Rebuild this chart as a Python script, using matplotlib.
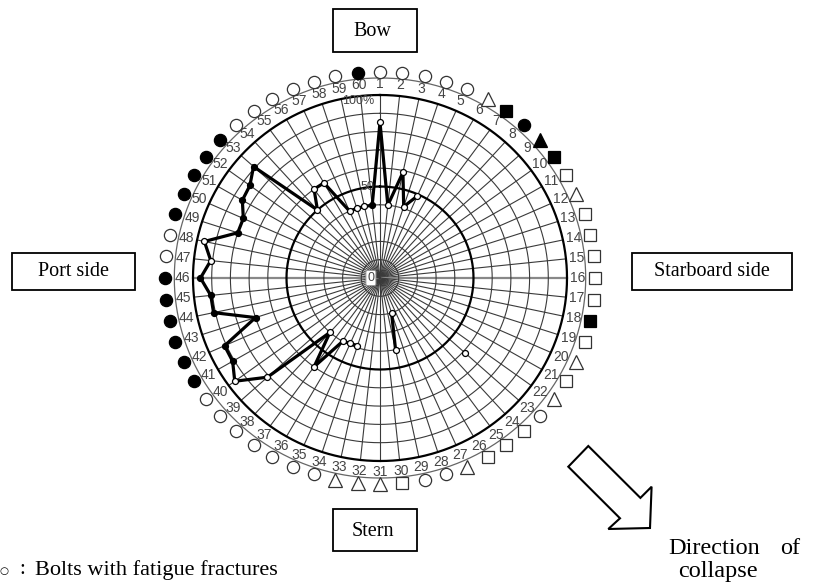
import numpy as np
import matplotlib
matplotlib.use("Agg")
import matplotlib.pyplot as plt
from matplotlib.patches import Rectangle, Polygon
from matplotlib import font_manager

# ---------------- data ----------------
bolt_numbers = np.arange(1, 61)
# rim marker per bolt: o open circle, O filled circle, t open triangle,
# T filled triangle, s open square, S filled square
rim_types = ["o", "o", "o", "o", "o", "t", "S", "O", "T", "S",
             "s", "t", "s", "s", "s", "s", "s", "S", "s", "t",
             "s", "t", "o", "s", "s", "s", "t", "o", "o", "s",
             "t", "t", "t", "o", "o", "o", "o", "o", "o", "o",
             "O", "O", "O", "O", "O", "O", "o", "o", "O", "O",
             "O", "O", "O", "o", "o", "o", "o", "o", "o", "O"]
nan = np.nan
bolt_values = [85, 40, 59, 41, 49, nan, nan, nan, nan, nan,
               nan, nan, nan, nan, nan, nan, nan, nan, nan, nan,
               nan, nan, 61, nan, nan, nan, nan, 20, 40, nan,
               nan, nan, nan, 39, 39, 40, 60, 40, 81, 96,
               91, 91, 70, 91, 91, 96, 91, 96, 80, 80,
               85, 86, 91, 50, 60, 60, 40, 40, 40, 40]
ring_levels = [10, 20, 30, 40, 50, 60, 70, 80, 90, 100]
axis_label_levels = [0, 50, 100]
axis_label_texts = ["0", "50", "100%"]
direction_labels = ["Bow", "Port side", "Starboard side", "Stern"]
legend_text = "Bolts with fatigue fractures"
collapse_text = ["Direction", "of", "collapse"]

# ---------------- figure ----------------
W, H, DPI = 821, 582, 100
fig = plt.figure(figsize=(W / DPI, H / DPI), dpi=DPI)
fig.patch.set_facecolor("white")

CX, CY, SX, SY = 380.0, 278.0, 1.87, 1.83   # centre px, px per percent
ax = fig.add_axes([0, 0, 1, 1])
ax.set_xlim(-CX / SX, (W - CX) / SX)
ax.set_ylim(-(H - CY) / SY, CY / SY)
ax.axis("off")

names = {f.name for f in font_manager.fontManager.ttflist}
sans = "Liberation Sans Narrow" if "Liberation Sans Narrow" in names else "Liberation Sans"
serif = "Liberation Serif"

theta = np.deg2rad((bolt_numbers - 1) * 6.0)
t = np.linspace(0, 2 * np.pi, 721)

# spokes
for b, th in zip(bolt_numbers, theta):
    if b in (16, 46):
        ax.plot([0, 100 * np.sin(th)], [0, 100 * np.cos(th)], color="#888888", lw=1.6, zorder=1)
    else:
        ax.plot([0, 100 * np.sin(th)], [0, 100 * np.cos(th)], color="#3a3a3a", lw=0.8, zorder=1)

# rings
for r in ring_levels:
    if r in (50, 100):
        ax.plot(r * np.sin(t), r * np.cos(t), color="black", lw=1.6, zorder=2)
    else:
        ax.plot(r * np.sin(t), r * np.cos(t), color="#3a3a3a", lw=0.8, zorder=1)
# outer thin ring
ax.plot(110.0 * np.sin(t), 109.3 * np.cos(t), color="#666666", lw=0.9, zorder=1)

# data line (start sequence at bolt 6 so the wrap 60->1 is continuous)
vals = np.array(bolt_values, dtype=float)
order = np.r_[np.arange(5, 60), np.arange(0, 5)]
xs = vals[order] * np.sin(theta[order])
ys = vals[order] * np.cos(theta[order])
ax.plot(xs, ys, color="black", lw=2.3, zorder=4, solid_joinstyle="miter")
for i in range(60):
    if np.isnan(vals[i]):
        continue
    fc = "black" if rim_types[i] == "O" else "white"
    ax.plot(vals[i] * np.sin(theta[i]), vals[i] * np.cos(theta[i]), marker="o",
            ms=4.3, mfc=fc, mec="black", mew=0.9, zorder=5, ls="none")

# bolt labels
for b, th in zip(bolt_numbers, theta):
    ax.text(105.8 * np.sin(th), 105.8 * np.cos(th), str(b), ha="center", va="center",
            fontsize=10, color="#444444", family=sans, zorder=6)

# rim markers
shape = {"o": "o", "O": "o", "t": "^", "T": "^", "s": "s", "S": "s"}
size = {"o": 8.8, "t": 9.5, "s": 8.0}
for i in range(60):
    k = rim_types[i]
    m = shape[k]
    filled = k.isupper()
    ms = size[k.lower()]
    ax.plot(115.0 * np.sin(theta[i]), 112.8 * np.cos(theta[i]), marker=m, ms=ms,
            mfc="black" if filled else "white", mec="black" if filled else "#333333",
            mew=0.9, ls="none", zorder=6)

# value-axis labels
for lv, tx in zip(axis_label_levels, axis_label_texts):
    if lv == 0:
        ax.text(-3.0, 0, tx, ha="right", va="center", fontsize=9, color="#444444", family=sans,
                zorder=7, bbox=dict(boxstyle="round,pad=0.12", fc="white", ec="#999999", lw=0.7))
    elif lv == 100:
        ax.text(-3.0, lv - 3.3, tx, ha="right", va="center", fontsize=9, color="#444444",
                family=sans, zorder=7)
    else:
        ax.text(-3.0, lv, tx, ha="right", va="center", fontsize=9, color="#444444",
                family=sans, zorder=7)

# ---------------- overlay (pixel coordinates) ----------------
ov = fig.add_axes([0, 0, 1, 1], facecolor="none")
ov.set_xlim(0, W)
ov.set_ylim(H, 0)
ov.axis("off")

boxes = [(333, 9, 84, 43), (12, 253, 123, 37), (632, 253, 160, 37), (333, 509, 84, 42)]
text_pos = [(372, 32), (73, 272), (712, 272), (373, 531)]
for (bx, by, bw, bh), (tx, ty), lab in zip(boxes, text_pos, direction_labels):
    ov.add_patch(Rectangle((bx, by), bw, bh, fill=False, ec="black", lw=1.3))
    ov.text(tx, ty, lab, ha="center", va="center", fontsize=14.5, family=serif, color="black")

# arrow
arrow = [(588.3, 446), (568.3, 466.7), (620, 518.3), (608.3, 529), (650, 528),
         (651.6, 486.7), (640.4, 497.9)]
ov.add_patch(Polygon(arrow, closed=True, fill=False, ec="black", lw=1.5, joinstyle="miter"))

ov.text(668, 549, collapse_text[0], ha="left", va="center", fontsize=17.5, family=serif)
ov.text(800, 549, collapse_text[1], ha="right", va="center", fontsize=17.5, family=serif)
ov.text(678, 571, collapse_text[2], ha="left", va="center", fontsize=17.5, family=serif)

# legend line at the bottom
ov.text(4, 571, "○", ha="center", va="center", fontsize=7.5, family="DejaVu Sans")
ov.text(22, 570, ":", ha="center", va="center", fontsize=15, family=serif)
ov.text(35, 570, legend_text, ha="left", va="center", fontsize=16, family=serif)

fig.savefig("out.png", dpi=DPI)
